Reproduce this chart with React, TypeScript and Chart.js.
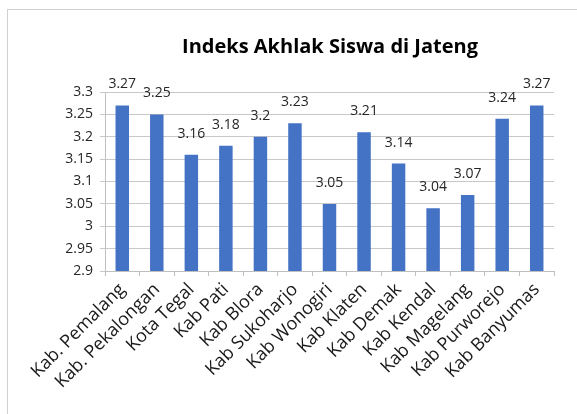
import React, { useEffect, useRef } from "react";
import { Chart, registerables } from "chart.js";

Chart.register(...registerables);

const chartTitle = "Indeks Akhlak Siswa di Jateng";
const categories = [
  "Kab. Pemalang",
  "Kab. Pekalongan",
  "Kota Tegal",
  "Kab Pati",
  "Kab Blora",
  "Kab Sukoharjo",
  "Kab Wonogiri",
  "Kab Klaten",
  "Kab Demak",
  "Kab Kendal",
  "Kab Magelang",
  "Kab Purworejo",
  "Kab Banyumas",
];
const values = [3.27, 3.25, 3.16, 3.18, 3.2, 3.23, 3.05, 3.21, 3.14, 3.04, 3.07, 3.24, 3.27];
const yMin = 2.9;
const yMax = 3.3;
const yStep = 0.05;

const FONT = "'Open Sans', 'Liberation Sans', sans-serif";

const framePlugin = {
  id: "frame",
  beforeDraw(chart: any) {
    const ctx = chart.ctx;
    ctx.save();
    ctx.fillStyle = "#ffffff";
    ctx.fillRect(0, 0, chart.width, chart.height);
    ctx.strokeStyle = "#d0d0d0";
    ctx.lineWidth = 1;
    ctx.strokeRect(7.5, 9.5, 640, 440);
    ctx.fillStyle = "#000000";
    ctx.font = `bold 20px ${FONT}`;
    ctx.textAlign = "center";
    ctx.textBaseline = "middle";
    ctx.fillText(chartTitle, 330, 47);
    ctx.restore();
  },
};

const labelPlugin = {
  id: "barLabels",
  afterDatasetsDraw(chart: any) {
    const ctx = chart.ctx;
    const meta = chart.getDatasetMeta(0);
    ctx.save();
    ctx.fillStyle = "#262626";
    ctx.font = `14px ${FONT}`;
    ctx.textAlign = "center";
    ctx.textBaseline = "middle";
    meta.data.forEach((bar: any, i: number) => {
      ctx.fillText(String(values[i]), bar.x, bar.y - 21);
    });
    ctx.restore();
  },
};

export default function App() {
  const ref = useRef<HTMLCanvasElement | null>(null);
  useEffect(() => {
    if (!ref.current) return;
    const chart = new Chart(ref.current, {
      type: "bar",
      data: {
        labels: categories,
        datasets: [
          {
            data: values,
            backgroundColor: "#4472C4",
            borderWidth: 0,
            categoryPercentage: 1,
            barPercentage: 0.39,
          },
        ],
      },
      options: {
        animation: false,
        responsive: false,
        devicePixelRatio: 1,
        layout: { padding: { top: 92, right: 23, left: 0, bottom: 0 } },
        plugins: {
          legend: { display: false },
          title: { display: false },
          tooltip: { enabled: false },
        },
        scales: {
          x: {
            grid: {
              display: true,
              drawOnChartArea: false,
              drawTicks: true,
              tickLength: 5,
              color: "#bfbfbf",
              offset: true,
            },
            border: { display: true, color: "#bfbfbf" },
            ticks: {
              minRotation: 45,
              maxRotation: 45,
              autoSkip: false,
              padding: 3,
              color: "#1a1a1a",
              font: { family: FONT, size: 18 },
            },
            afterFit(scale: any) {
              scale.height = 414 - 271;
            },
          },
          y: {
            min: yMin,
            max: yMax,
            grid: { color: "#c8c8c8", tickLength: 5, drawTicks: true },
            border: { display: true, color: "#bfbfbf" },
            ticks: {
              stepSize: yStep,
              padding: 7,
              color: "#262626",
              font: { family: FONT, size: 14 },
              callback: (v: any) => String(Number(Number(v).toFixed(2))),
            },
            afterFit(scale: any) {
              scale.width = 105;
            },
          },
        },
      },
      plugins: [framePlugin, labelPlugin],
    });
    return () => chart.destroy();
  }, []);
  return (
    <div style={{ position: "absolute", left: 0, top: 0, width: 577, height: 414 }}>
      <canvas ref={ref} width={577} height={414} style={{ width: 577, height: 414, display: "block" }} />
    </div>
  );
}
